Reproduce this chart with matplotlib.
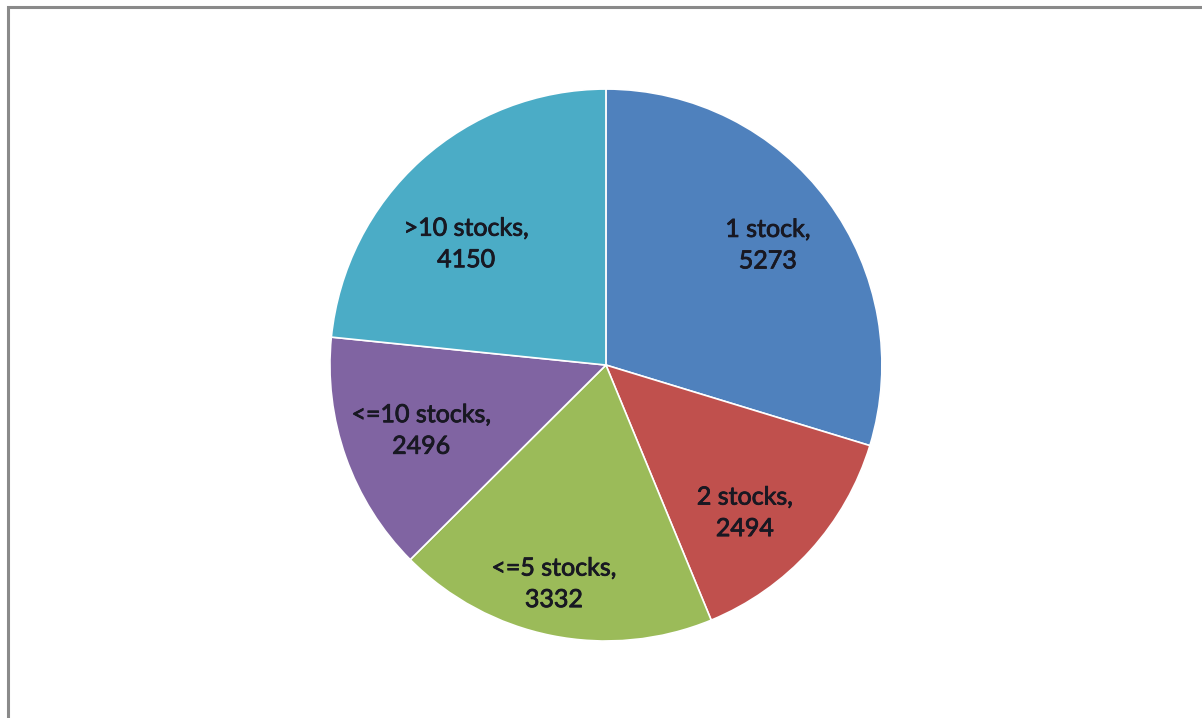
import numpy as np
import matplotlib
matplotlib.use("Agg")
import matplotlib.pyplot as plt
import matplotlib.patheffects as pe
from matplotlib.patches import Rectangle

# slice data, clockwise from 12 o'clock
categories = ["1 stock", "2 stocks", "<=5 stocks", "<=10 stocks", ">10 stocks"]
counts = [5273, 2494, 3332, 2496, 4150]
colors = ["#4F81BD", "#C0504D", "#9BBB59", "#8064A2", "#4BACC6"]
# where Excel put the data labels (fraction of radius, angle nudge in deg)
label_radius = [0.73, 0.735, 0.815, 0.71, 0.67]
label_nudge = [0, -4.5, -2, 0, 7]

fig = plt.figure(figsize=(12.02, 7.18), dpi=100)
fig.patch.set_facecolor("white")

# grey chart frame (right/bottom run off the picture)
fig.patches.append(Rectangle((8 / 1202, -0.05), 1.1, 1 - 7 / 718 + 0.05,
                             transform=fig.transFigure, fill=False,
                             edgecolor="#8a8a8a", linewidth=2.2))

ax = fig.add_axes([0.2745, 0.1072, 0.4592, 0.7688])
wedges, _ = ax.pie(counts, colors=colors, startangle=90, counterclock=False,
                   radius=1.0,
                   wedgeprops=dict(edgecolor="white", linewidth=1.2))

txt_col = "#181822"
for w, cat, val, r, nd in zip(wedges, categories, counts, label_radius, label_nudge):
    mid = np.deg2rad((w.theta1 + w.theta2) / 2 + nd)
    t = ax.text(r * np.cos(mid), r * np.sin(mid), f"{cat},\n{val}",
                ha="center", va="center", fontsize=18, family="Lato",
                color=txt_col, linespacing=1.45)
    # slightly heavier strokes, like the blurry Calibri in the original
    t.set_path_effects([pe.Stroke(linewidth=0.6, foreground=txt_col), pe.Normal()])

ax.set_xlim(-1, 1)
ax.set_ylim(-1, 1)
ax.set_aspect("equal")
ax.axis("off")

fig.savefig("out.png", dpi=100)
